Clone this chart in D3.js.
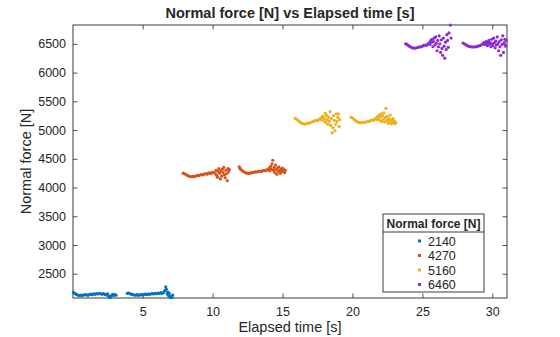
<!DOCTYPE html>
<html>
<head>
<meta charset="utf-8">
<script src="https://cdn.jsdelivr.net/npm/d3@7"></script>
<style>
  body { margin: 0; background: #fff; }
  svg text { font-family: "Liberation Sans", Arial, Helvetica, sans-serif; fill: #262626; }
</style>
</head>
<body>
<div id="chart"></div>
<script>
// legend labels (nominal normal force) and colours
var seriesNames = ["2140", "4270", "5160", "6460"];
var seriesColors = ["#0072bd", "#d95319", "#edb120", "#8a2bd6"];

var time2140 = [0.05,0.12,0.2,0.3,0.4,0.5,0.6,0.7,0.8,0.9,1.0,1.1,1.2,1.3,1.4,1.5,1.6,1.7,1.8,1.9,2.0,2.1,2.2,2.3,2.4,2.5,2.58,2.65,2.7,2.78,2.85,2.92,3.0,3.1,
  3.9,4.0,4.1,4.2,4.3,4.4,4.5,4.6,4.7,4.8,4.9,5.0,5.1,5.2,5.3,5.4,5.5,5.6,5.7,5.8,5.9,6.0,6.1,6.2,6.3,6.4,6.5,6.6,6.65,6.7,6.75,6.8,6.85,6.9,6.95,7.0,7.05,7.1,7.15];
var force2140 = [2175,2160,2150,2135,2125,2120,2128,2122,2130,2138,2132,2125,2140,2145,2135,2150,2142,2155,2148,2158,2150,2145,2155,2140,2130,2150,2110,2085,2095,2125,2140,2120,2135,2128,
  2160,2165,2150,2145,2135,2130,2128,2135,2125,2132,2138,2130,2140,2145,2138,2148,2142,2150,2155,2148,2160,2152,2165,2158,2170,2160,2175,2210,2270,2230,2150,2180,2120,2160,2100,2085,2110,2090,2130];

var time4270 = [7.9,8.0,8.1,8.2,8.3,8.4,8.5,8.6,8.7,8.8,8.9,9.0,9.1,9.2,9.3,9.4,9.5,9.6,9.7,9.8,9.9,10.0,10.1,10.2,10.25,10.3,10.35,10.4,10.45,10.5,10.55,10.6,10.65,10.7,10.75,10.8,10.85,10.9,10.95,11.0,11.05,11.1,11.15,11.2,
  11.9,11.95,12.0,12.1,12.2,12.3,12.4,12.5,12.6,12.7,12.8,12.9,13.0,13.1,13.2,13.3,13.4,13.5,13.6,13.7,13.8,13.9,14.0,14.05,14.1,14.15,14.2,14.25,14.3,14.35,14.4,14.45,14.5,14.55,14.6,14.65,14.7,14.75,14.8,14.85,14.9,14.95,15.0,15.05,15.1,15.15,15.2];
var force4270 = [4250,4240,4225,4210,4200,4192,4188,4195,4190,4200,4210,4205,4218,4225,4220,4235,4240,4232,4250,4255,4245,4270,4262,4240,4300,4210,4180,4280,4330,4250,4150,4290,4200,4320,4260,4350,4220,4170,4300,4240,4120,4330,4270,4310,
  4360,4340,4320,4300,4280,4265,4255,4248,4245,4250,4258,4262,4268,4275,4270,4282,4288,4280,4295,4300,4292,4310,4305,4340,4290,4370,4320,4410,4475,4300,4350,4260,4390,4310,4230,4340,4280,4360,4300,4250,4320,4280,4340,4290,4310,4260,4300];

var time5160 = [15.9,16.0,16.1,16.2,16.3,16.4,16.5,16.6,16.7,16.8,16.9,17.0,17.1,17.2,17.3,17.4,17.5,17.6,17.7,17.75,17.8,17.85,17.9,17.95,18.0,18.05,18.1,18.15,18.2,18.25,18.3,18.35,18.4,18.45,18.5,18.55,18.6,18.65,18.7,18.75,18.8,18.85,18.9,18.95,19.0,19.05,19.1,
  19.9,20.0,20.1,20.2,20.3,20.4,20.5,20.6,20.7,20.8,20.9,21.0,21.1,21.2,21.3,21.4,21.5,21.6,21.7,21.75,21.8,21.85,21.9,21.95,22.0,22.05,22.1,22.15,22.2,22.25,22.3,22.35,22.4,22.45,22.5,22.55,22.6,22.65,22.7,22.75,22.8,22.85,22.9,22.95,23.0,23.05,23.1];
var force5160 = [5205,5190,5170,5150,5130,5118,5110,5105,5110,5120,5118,5130,5140,5150,5160,5170,5165,5185,5200,5180,5215,5240,5230,5160,5200,5290,5130,5250,5180,5100,5220,5150,5320,5080,5200,4950,5040,5250,5170,4990,5100,5280,5150,5220,5280,5060,5180,
  5225,5210,5190,5170,5150,5138,5130,5128,5132,5140,5135,5145,5155,5150,5165,5175,5170,5190,5210,5185,5240,5200,5260,5170,5230,5280,5150,5250,5190,5300,5140,5220,5378,5170,5240,5120,5200,5150,5260,5110,5180,5140,5200,5120,5160,5110,5130];

var time6460 = [23.8,23.9,24.0,24.1,24.2,24.3,24.4,24.5,24.6,24.7,24.8,24.9,25.0,25.1,25.2,25.3,25.4,25.5,25.55,25.6,25.65,25.7,25.75,25.8,25.85,25.9,25.95,26.0,26.05,26.1,26.15,26.2,26.25,26.3,26.35,26.4,26.45,26.5,26.55,26.6,26.65,26.7,26.75,26.8,26.85,26.9,27.0,27.05,
  27.9,28.0,28.1,28.2,28.3,28.4,28.5,28.6,28.7,28.8,28.9,29.0,29.1,29.2,29.3,29.4,29.45,29.5,29.55,29.6,29.65,29.7,29.75,29.8,29.85,29.9,29.95,30.0,30.05,30.1,30.15,30.2,30.25,30.3,30.35,30.4,30.45,30.5,30.55,30.6,30.65,30.7,30.75,30.8,30.85,30.9,30.95,31.0];
var force6460 = [6500,6490,6470,6455,6440,6430,6425,6428,6432,6440,6450,6445,6460,6472,6480,6475,6500,6520,6490,6560,6530,6580,6450,6540,6600,6480,6620,6510,6380,6560,6450,6640,6500,6350,6570,6420,6300,6600,6460,6250,6530,6400,6660,6560,6440,6690,6826,6600,
  6515,6500,6485,6470,6460,6452,6448,6445,6450,6445,6455,6462,6470,6480,6500,6520,6490,6510,6540,6500,6470,6530,6560,6495,6520,6450,6580,6500,6470,6600,6520,6430,6550,6480,6620,6500,6380,6540,6450,6300,6570,6490,6640,6350,6520,6580,6460,6560];

var xTicks = [5, 10, 15, 20, 25, 30];
var yTicks = [2500, 3000, 3500, 4000, 4500, 5000, 5500, 6000, 6500];

var allTime = [time2140, time4270, time5160, time6460];
var allForce = [force2140, force4270, force5160, force6460];

var margin = {top: 25, right: 53, bottom: 39, left: 73},
    width = 560 - margin.left - margin.right,
    height = 337 - margin.top - margin.bottom;

var svg = d3.select("#chart").append("svg")
    .attr("width", 560)
    .attr("height", 337);

var g = svg.append("g")
    .attr("transform", "translate(" + margin.left + "," + margin.top + ")");

var x = d3.scaleLinear().domain([0.02, 31.05]).range([0, width]);
var y = d3.scaleLinear().domain([2078, 6828]).range([height, 0]);

// axes, ticks pointing in (MATLAB style)
g.append("g")
    .attr("transform", "translate(0," + height + ")")
    .call(d3.axisBottom(x).tickValues(xTicks).tickSizeInner(-4.5).tickSizeOuter(0).tickPadding(9));
g.append("g")
    .call(d3.axisTop(x).tickValues(xTicks).tickSizeInner(-4.5).tickSizeOuter(0).tickFormat(""));
g.append("g")
    .call(d3.axisLeft(y).tickValues(yTicks).tickFormat(d3.format("d")).tickSizeInner(-4.5).tickSizeOuter(0).tickPadding(7));
g.append("g")
    .attr("transform", "translate(" + width + ",0)")
    .call(d3.axisRight(y).tickValues(yTicks).tickSizeInner(-4.5).tickSizeOuter(0).tickFormat(""));

g.selectAll(".domain").remove();
g.selectAll(".tick line").attr("stroke", "#262626").attr("stroke-width", 0.8);
g.selectAll(".tick text").style("font-size", "12.5px").attr("fill", "#262626");

g.append("rect")
    .attr("width", width)
    .attr("height", height)
    .attr("fill", "none")
    .attr("stroke", "#262626")
    .attr("stroke-width", 0.9);

// points
svg.append("clipPath").attr("id", "clip")
  .append("rect").attr("x", -2).attr("y", -2).attr("width", width + 4).attr("height", height + 4);

for (let s = 0; s < seriesNames.length; s++) {
  let pts = allTime[s].map(function(t, i) { return {t: t, f: allForce[s][i]}; });
  g.append("g").attr("clip-path", "url(#clip)")
    .selectAll("circle")
    .data(pts)
    .enter()
    .append("circle")
      .attr("cx", function(d) { return x(d.t); })
      .attr("cy", function(d) { return y(d.f); })
      .attr("r", 1.6)
      .attr("fill", seriesColors[s]);
}

// title and labels
svg.append("text")
    .attr("x", margin.left + width / 2)
    .attr("y", 18)
    .attr("text-anchor", "middle")
    .style("font-size", "14.5px")
    .style("font-weight", "bold")
    .attr("fill", "#000")
    .text("Normal force [N] vs Elapsed time [s]");

svg.append("text")
    .attr("x", margin.left + width / 2)
    .attr("y", 332)
    .attr("text-anchor", "middle")
    .style("font-size", "14.5px")
    .text("Elapsed time [s]");

svg.append("text")
    .attr("transform", "translate(31," + (margin.top + height / 2) + ")rotate(-90)")
    .attr("text-anchor", "middle")
    .style("font-size", "14.5px")
    .text("Normal force [N]");

// legend
var leg = svg.append("g").attr("transform", "translate(383,214)");
leg.append("rect")
    .attr("width", 101)
    .attr("height", 78)
    .attr("fill", "#fff")
    .attr("stroke", "#262626")
    .attr("stroke-width", 0.9);
leg.append("line")
    .attr("x1", 0).attr("x2", 101)
    .attr("y1", 18).attr("y2", 18)
    .attr("stroke", "#262626")
    .attr("stroke-width", 0.9);
leg.append("text")
    .attr("x", 50.5)
    .attr("y", 14)
    .attr("text-anchor", "middle")
    .style("font-size", "12px")
    .style("font-weight", "bold")
    .attr("fill", "#000")
    .text("Normal force [N]");

seriesNames.forEach(function(name, i) {
  var row = leg.append("g").attr("transform", "translate(0," + (27 + i * 14.5) + ")");
  row.append("rect")
      .attr("x", 35).attr("y", -1.5)
      .attr("width", 3).attr("height", 3)
      .attr("fill", seriesColors[i]);
  row.append("text")
      .attr("x", 45)
      .attr("y", 4.5)
      .style("font-size", "12.5px")
      .text(name);
});
</script>
</body>
</html>
